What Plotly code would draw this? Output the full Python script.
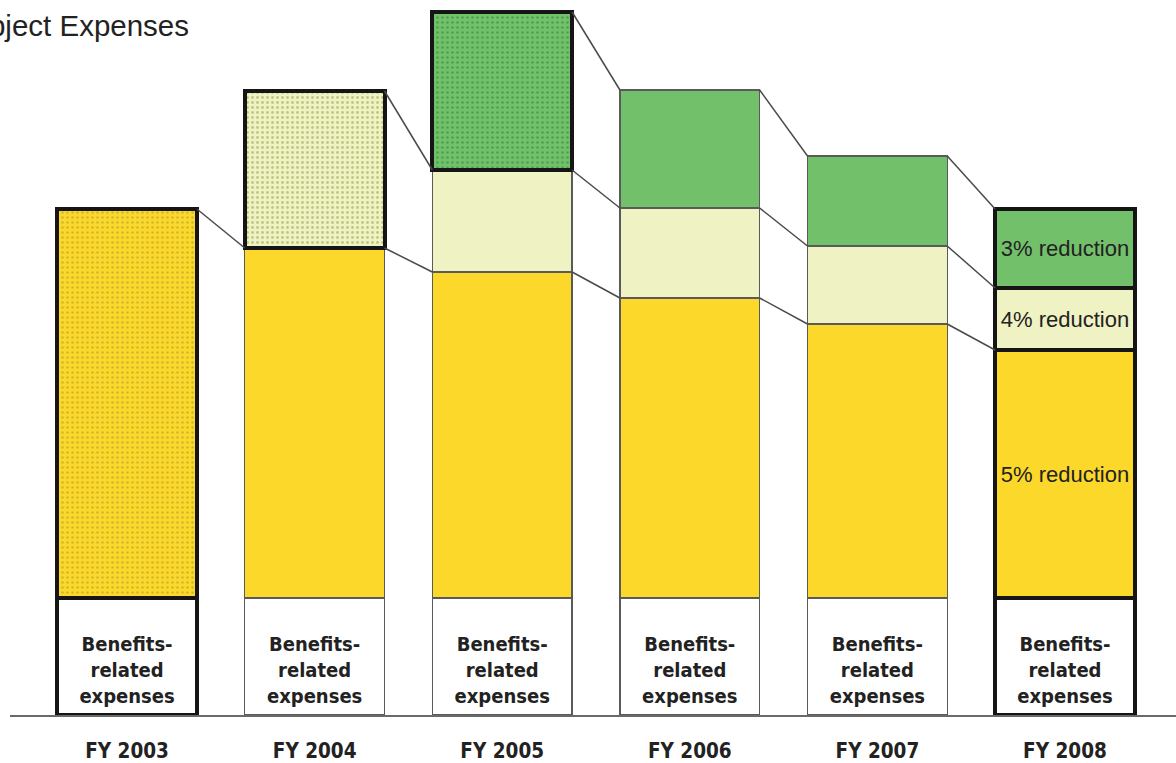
import plotly.graph_objects as go

# ---- data (arbitrary units) ----
years = ["FY 2003", "FY 2004", "FY 2005", "FY 2006", "FY 2007", "FY 2008"]
benefits = [23.4, 23.4, 23.4, 23.4, 23.4, 23.4]
seg_yellow = [77.8, 70.0, 65.2, 60.0, 54.8, 49.6]
seg_light = [None, 31.4, 20.4, 18.0, 15.6, 12.4]
seg_green = [None, None, 31.6, 23.6, 18.0, 15.8]
benefit_label = "&nbsp;<br><b>Benefits-<br>related<br>expenses</b>"
yellow_text = ["", "", "", "", "", "5% reduction"]
light_text = ["", "", "", "", "", "4% reduction"]
green_text = ["", "", "", "", "", "3% reduction"]
title_text = "Object Expenses"

# ---- style ----
YELLOW = "#FCD82A"
LIGHT = "#EFF2C3"
GREEN = "#73C06B"
BAR_W = 0.745
THICK, THIN = 4, 1.4
DARK, GREY = "#151515", "#5a5a5a"
xs = list(range(len(years)))

def widths(thick_idx, present):
    return [(THICK if i in thick_idx else THIN) if present[i] else 0 for i in xs]

def colors(thick_idx):
    return [DARK if i in thick_idx else GREY for i in xs]

fig = go.Figure()

narrow = "DejaVu Sans Condensed, Liberation Sans Narrow, Arial Narrow, sans-serif"
regular = "Liberation Sans, Arial, sans-serif"

fig.add_trace(go.Bar(
    x=xs, y=benefits, width=BAR_W, marker_color="white",
    marker_line=dict(width=widths({0, 5}, [1] * 6), color=colors({0, 5})),
    text=[benefit_label] * 6, textposition="inside", insidetextanchor="middle",
    textangle=0, textfont=dict(family=narrow, size=20, color="#222"),
    hoverinfo="skip", showlegend=False))

fig.add_trace(go.Bar(
    x=xs, y=seg_yellow, width=BAR_W, marker_color=YELLOW,
    marker_line=dict(width=widths({0, 5}, [1] * 6), color=colors({0, 5})),
    marker_pattern=dict(shape=[".", "", "", "", "", ""], fgcolor="#6f6a3a",
                        fgopacity=0.3, size=5, solidity=0.2, fillmode="overlay"),
    text=yellow_text, textposition="inside", insidetextanchor="middle",
    textangle=0, textfont=dict(family=regular, size=22, color="#222"),
    hoverinfo="skip", showlegend=False))

fig.add_trace(go.Bar(
    x=xs, y=seg_light, width=BAR_W, marker_color=LIGHT,
    marker_line=dict(width=widths({1, 5}, [v is not None for v in seg_light]), color=colors({1, 5})),
    marker_pattern=dict(shape=["", ".", "", "", "", ""], fgcolor="#8f9a40",
                        fgopacity=0.5, size=5, solidity=0.25, fillmode="overlay"),
    text=light_text, textposition="inside", insidetextanchor="middle",
    textangle=0, textfont=dict(family=regular, size=22, color="#222"),
    hoverinfo="skip", showlegend=False))

fig.add_trace(go.Bar(
    x=xs, y=seg_green, width=BAR_W, marker_color=GREEN,
    marker_line=dict(width=widths({2, 5}, [v is not None for v in seg_green]), color=colors({2, 5})),
    marker_pattern=dict(shape=["", "", ".", "", "", ""], fgcolor="#1f7a2a",
                        fgopacity=0.45, size=5, solidity=0.22, fillmode="overlay"),
    text=green_text, textposition="inside", insidetextanchor="middle",
    textangle=0, textfont=dict(family=regular, size=22, color="#222"),
    hoverinfo="skip", showlegend=False))

# ---- connector lines between successive bar segment tops ----
cum = []
for i in xs:
    c1 = benefits[i] + seg_yellow[i]
    c2 = c1 + seg_light[i] if seg_light[i] is not None else None
    c3 = c2 + seg_green[i] if (seg_green[i] is not None and c2 is not None) else None
    cum.append([c1, c2, c3])

for k in range(3):
    for i in xs[:-1]:
        a, b = cum[i][k], cum[i + 1][k]
        if a is None or b is None:
            continue
        fig.add_trace(go.Scatter(
            x=[i + BAR_W / 2, i + 1 - BAR_W / 2], y=[a, b], mode="lines",
            line=dict(color="#4a4a4a", width=1.5), hoverinfo="skip", showlegend=False))

fig.add_annotation(
    text=title_text, xref="paper", yref="paper", x=(191 - 10) / 1166, y=1 - 25 / 715,
    xanchor="right", yanchor="middle", showarrow=False,
    font=dict(family=regular, size=29.5, color="#222"))

fig.update_layout(
    barmode="stack", width=1176, height=763,
    margin=dict(l=10, r=0, t=0, b=48),
    paper_bgcolor="white", plot_bgcolor="white",
    xaxis=dict(range=[-0.624, 5.592], tickmode="array", tickvals=xs,
               ticktext=["<b>%s</b>" % y for y in years], ticks="", ticklabelstandoff=16,
               tickfont=dict(family=narrow, size=20.5, color="#222"),
               showline=True, linecolor="#6a6a6a", linewidth=2, showgrid=False,
               zeroline=False, fixedrange=True),
    yaxis=dict(range=[0, 143], visible=False, showgrid=False, fixedrange=True),
    uniformtext=dict(mode=False),
)

fig.write_html("out.html")
